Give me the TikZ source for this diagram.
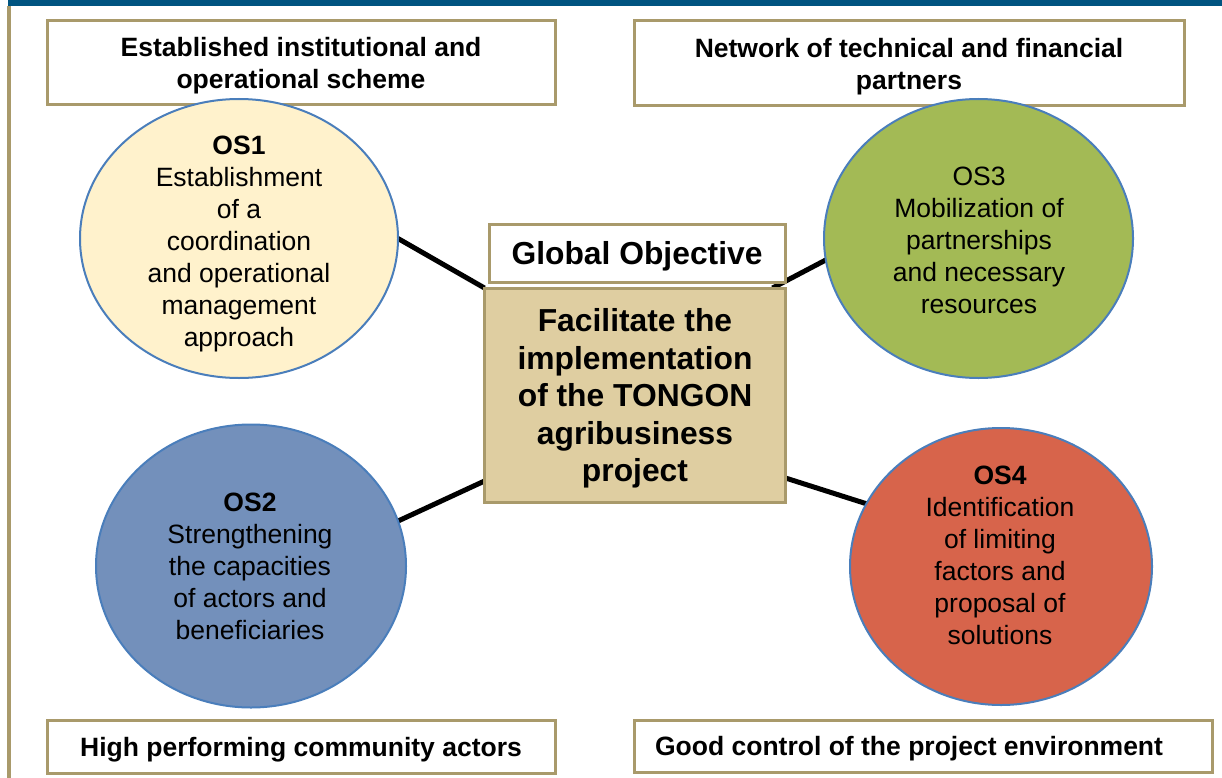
\documentclass[tikz,border=0pt]{standalone}
\usepackage{fontspec}
\setmainfont{Liberation Sans}
\usetikzlibrary{shapes.geometric,backgrounds,calc}

\definecolor{topbar}{HTML}{005480}
\definecolor{tanline}{HTML}{A99A6B}
\definecolor{mainfill}{HTML}{DFCEA1}
\definecolor{osone}{HTML}{FFF2CC}
\definecolor{ostwo}{HTML}{7390BB}
\definecolor{osthree}{HTML}{A3BA55}
\definecolor{osfour}{HTML}{D7644B}
\definecolor{ellline}{HTML}{4A7EBB}

\begin{document}
\begin{tikzpicture}[x=1pt,y=-1pt,
 box/.style={draw=tanline, line width=3pt, fill=white, rectangle, inner sep=0pt, outer sep=0pt,
   align=center, text depth=0pt, font=\fontsize{26.5}{32}\selectfont\bfseries},
 boxtext/.style={inner sep=0pt, align=center, text depth=0pt, font=\fontsize{26.5}{32}\selectfont\bfseries},
 bigtext/.style={font=\fontsize{31.8}{37.5}\selectfont\bfseries},
 oval/.style={ellipse, draw=ellline, line width=2pt, inner sep=0pt, outer sep=0pt},
 ovaltext/.style={inner sep=0pt, align=center, text depth=0pt, font=\fontsize{26.5}{32}\selectfont},
 link/.style={line width=5pt, black},
]
\useasboundingbox (0,0) rectangle (1222,778);

% frame
\fill[topbar] (8,0) rectangle (1222,6);
\fill[tanline] (7,6) rectangle (10.5,778);

% result boxes
\node[box, minimum width=508pt, minimum height=84pt] (tl) at (301,63) {Established institutional and\\operational scheme};
\node[box, minimum width=550pt, minimum height=85pt] (tr) at (909,63.5) {Network of technical and financial\\partners};
\node[box, minimum width=508pt, minimum height=53pt] (bl) at (301,746.5) {High performing community actors};
\node[box, minimum width=578pt, minimum height=52pt] (br) at (923,746) {};
\node[boxtext] (brt) at (909,746) {Good control of the project environment};

% specific objectives
\node[oval, fill=osone, minimum width=318pt, minimum height=279pt] (os1) at (239,238.5) {};
\node[ovaltext] (os1t) at (239,241) {\textbf{OS1}\\Establishment\\of a\\coordination\\and operational\\management\\approach};

\node[oval, fill=osthree, minimum width=309pt, minimum height=279pt] (os3) at (978.5,238.5) {};
\node[ovaltext] (os3t) at (979,240) {OS3\\Mobilization of\\partnerships\\and necessary\\resources};

\node[oval, fill=ostwo, minimum width=310pt, minimum height=283pt] (os2) at (251,566) {};
\node[ovaltext] (os2t) at (250,566) {\textbf{OS2}\\Strengthening\\the capacities\\of actors and\\beneficiaries};

\node[oval, fill=osfour, minimum width=302pt, minimum height=277pt] (os4) at (1001,566.5) {};
\node[ovaltext] (os4t) at (1000,555) {\textbf{OS4}\\Identification\\of limiting\\factors and\\proposal of\\solutions};

% global objective
\node[box, bigtext, minimum width=296pt, minimum height=58pt] (goal) at (637,253) {Global Objective};
\node[box, bigtext, fill=mainfill, minimum width=301pt, minimum height=214pt] (main) at (635,395)
  {Facilitate the\\implementation\\of the TONGON\\agribusiness\\project};

% connectors
\begin{scope}[on background layer]
\fill[white] (0,6) rectangle (1222,778);
\draw[link] (os1.0) -- (main.north west);
\draw[link] (os3.188) -- ($(main.north east)+(-13,0)$);
\draw[link] (os2.17) -- ($(main.south west)+(0,-21)$);
\draw[link] ($(main.south east)+(0,-24)$) -- (os4.155);
\end{scope}
\end{tikzpicture}
\end{document}
